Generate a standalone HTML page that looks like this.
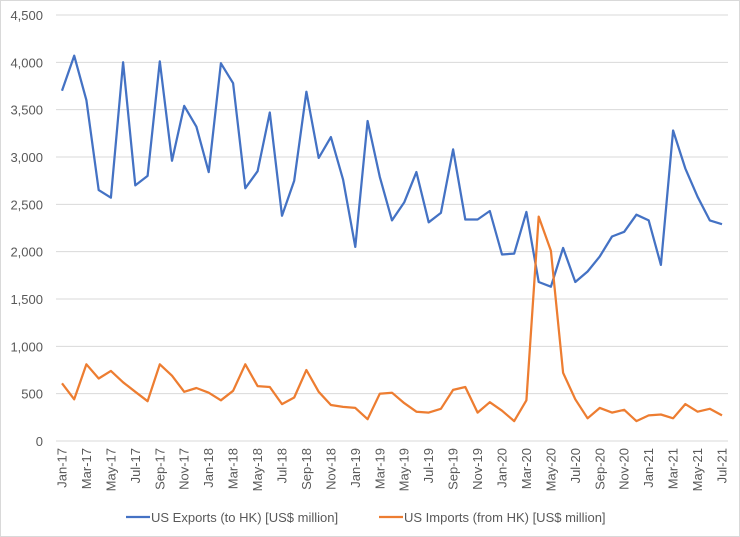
<!DOCTYPE html>
<html><head><meta charset="utf-8"><style>
body{margin:0;background:#fff}
svg{display:block;font-family:"Liberation Sans",sans-serif}
</style></head><body>
<svg id="c" width="740" height="537" xmlns="http://www.w3.org/2000/svg">
<rect x="0.5" y="0.5" width="739" height="536" fill="#fff" stroke="#d9d9d9"/>
</svg>
<script>
var ex=[3700,4070,3600,2650,2570,4000,2700,2800,4010,2960,3540,3320,2840,3990,3780,2670,2850,3470,2380,2750,3690,2990,3210,2760,2050,3380,2790,2330,2520,2840,2310,2410,3080,2340,2340,2430,1970,1980,2420,1680,1630,2040,1680,1790,1950,2160,2210,2390,2330,1860,3280,2880,2580,2330,2290];
var im=[610,440,810,660,740,620,520,420,810,690,520,560,510,430,530,810,580,570,390,460,750,520,380,360,350,230,500,510,400,310,300,340,540,570,300,410,320,210,430,2370,2010,720,440,240,350,300,330,210,270,280,240,390,310,340,270];
var s='',X=function(i){return 62+i*660/54},Y=function(v){return 441-v*426/4500};
for(var v=0;v<=4500;v+=500){var y=Y(v);s+='<line x1="56" x2="728" y1="'+y+'" y2="'+y+'" stroke="#d9d9d9"/>';
s+='<text x="43" y="'+(y+5)+'" text-anchor="end" font-size="13" fill="#595959">'+v.toLocaleString('en-US')+'</text>';}
var m=['Jan','Mar','May','Jul','Sep','Nov'];
for(var i=0;i<55;i+=2){var mo=i%12,yr=17+Math.floor(i/12);var lab=['Jan','Feb','Mar','Apr','May','Jun','Jul','Aug','Sep','Oct','Nov','Dec'][mo]+'-'+yr;
s+='<text transform="translate('+(X(i)+4.5)+',448) rotate(-90)" text-anchor="end" font-size="13" fill="#595959">'+lab+'</text>';}
function pl(d,c){return '<polyline fill="none" stroke="'+c+'" stroke-width="2.25" stroke-linejoin="round" points="'+d.map(function(v,i){return X(i).toFixed(1)+','+Y(v).toFixed(1)}).join(' ')+'"/>';}
s+=pl(ex,'#4472c4')+pl(im,'#ed7d31');
s+='<line x1="126" x2="150" y1="517" y2="517" stroke="#4472c4" stroke-width="2.25"/><text x="151" y="522" font-size="13" fill="#595959">US Exports (to HK) [US$ million]</text>';
s+='<line x1="379" x2="403" y1="517" y2="517" stroke="#ed7d31" stroke-width="2.25"/><text x="404" y="522" font-size="13" fill="#595959">US Imports (from HK) [US$ million]</text>';
document.getElementById('c').insertAdjacentHTML('beforeend',s);
</script>
</body></html>
